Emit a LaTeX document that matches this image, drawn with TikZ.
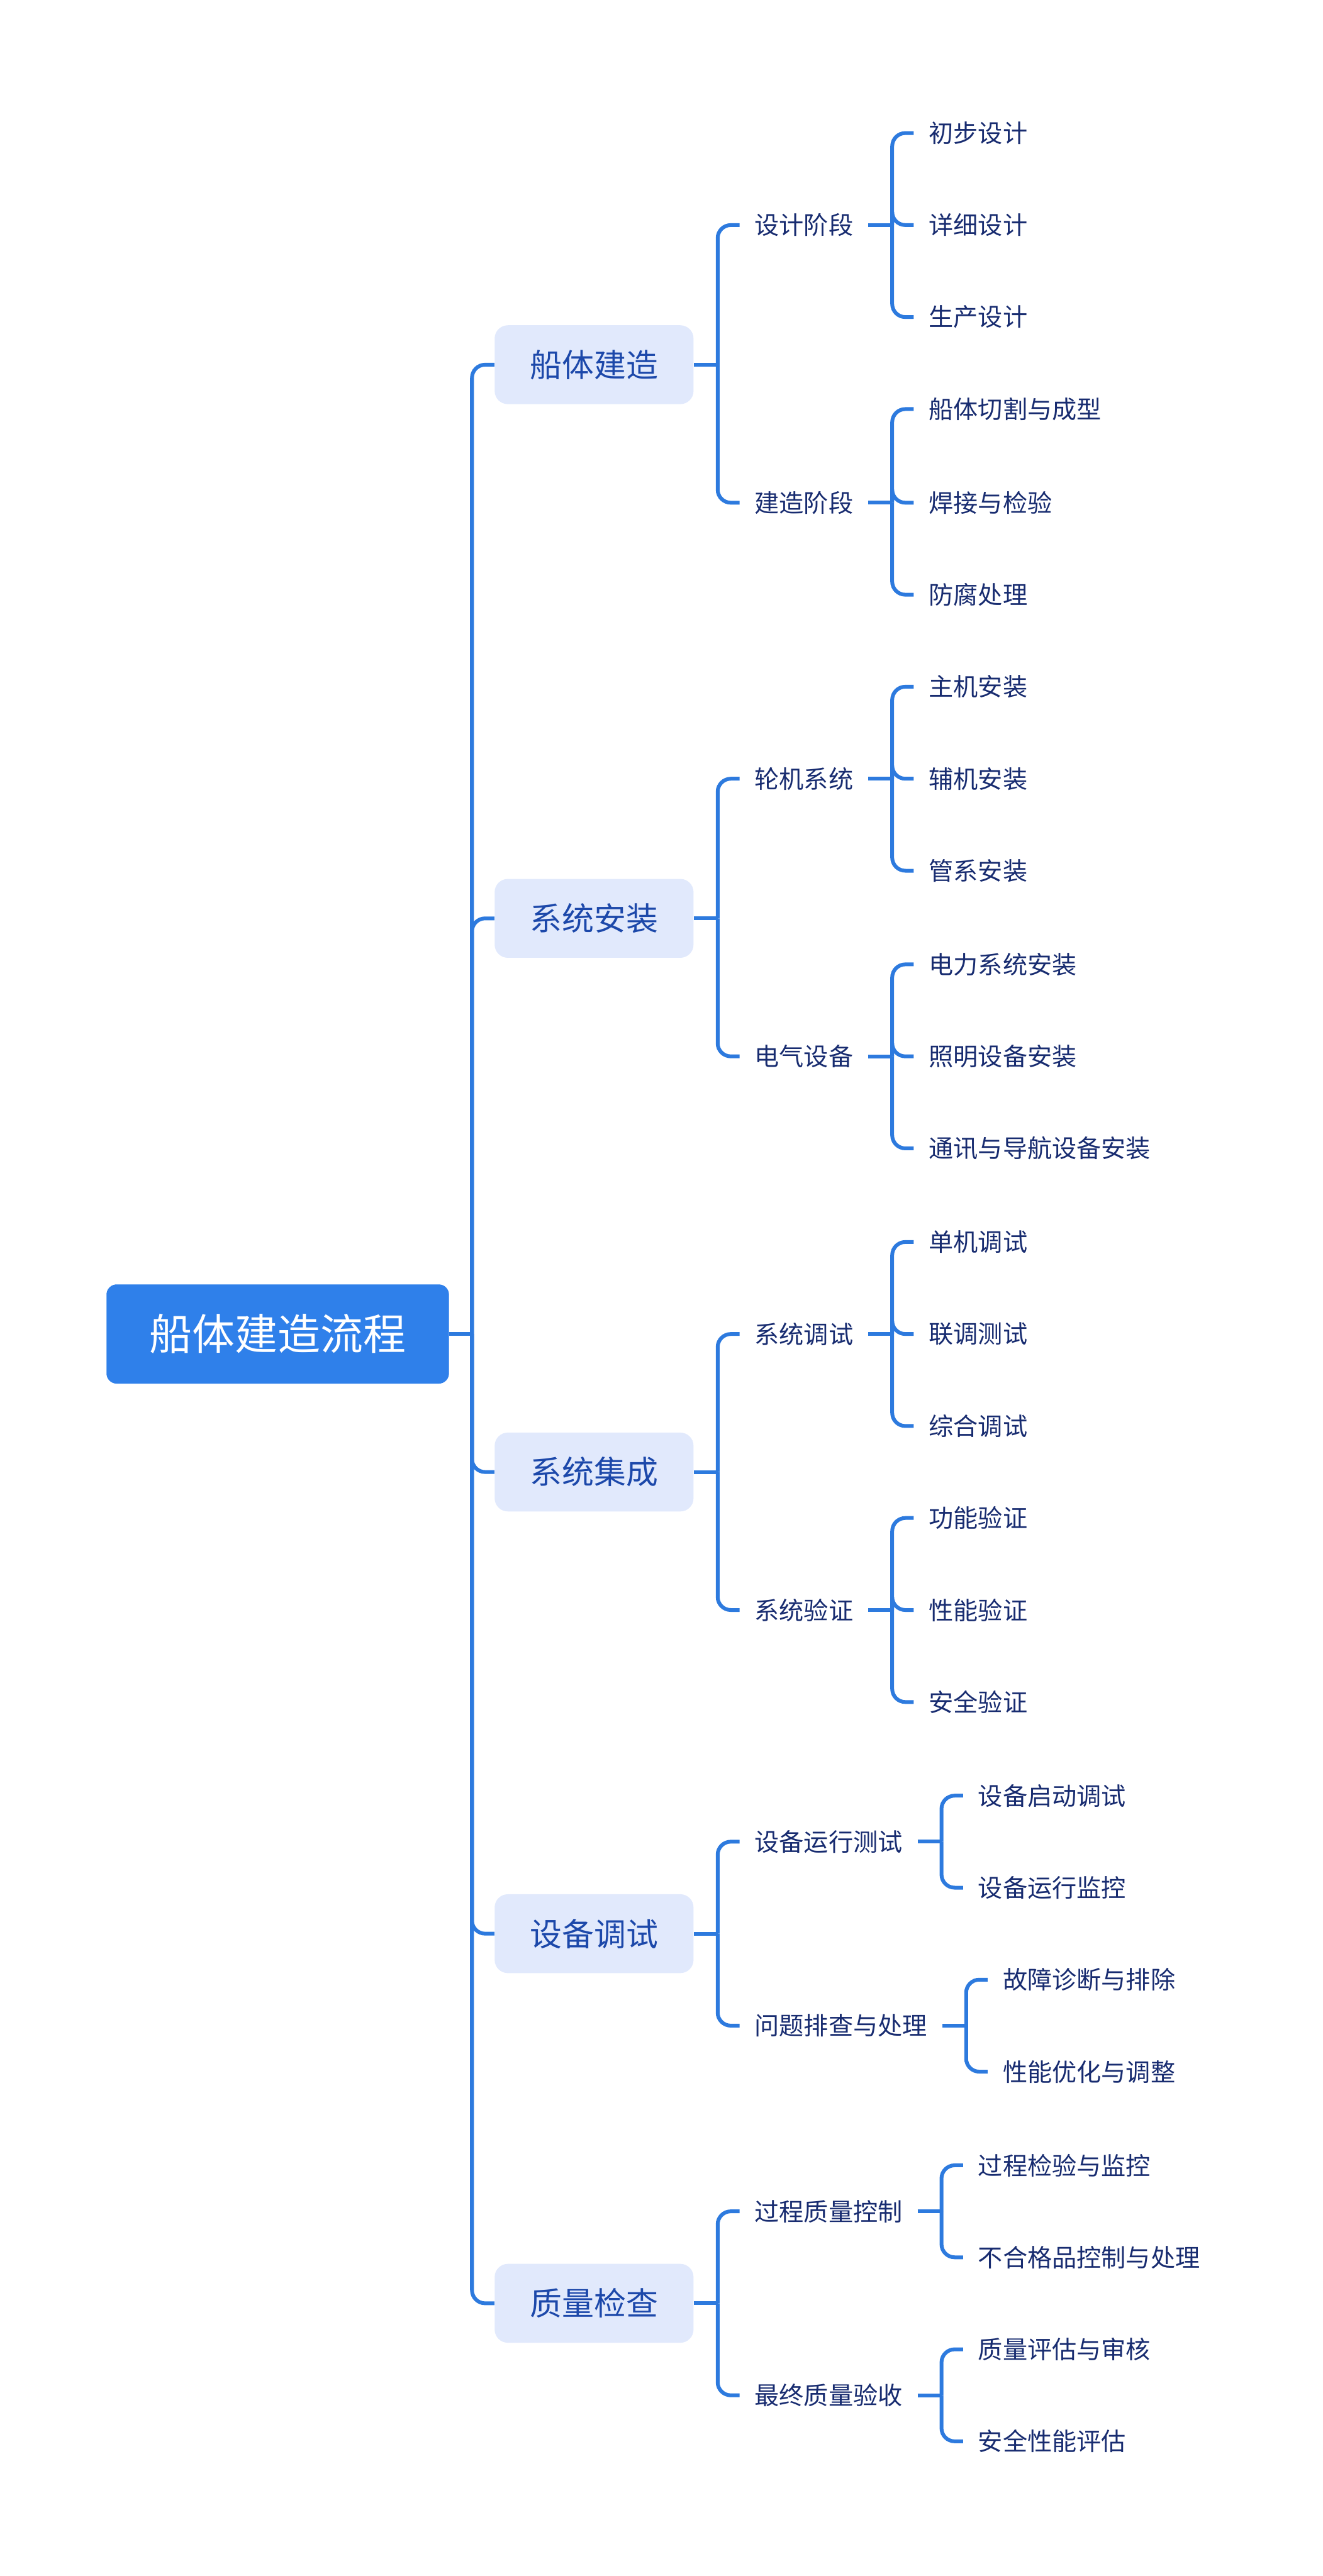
\documentclass[tikz,border=0pt]{standalone}
\usepackage{fontspec}
\setmainfont{Noto Sans CJK SC}
\usetikzlibrary{positioning}
\definecolor{rootblue}{RGB}{47,128,234}
\definecolor{topicfill}{RGB}{225,233,252}
\definecolor{topictext}{RGB}{28,72,170}
\definecolor{leaftext}{RGB}{24,44,112}
\definecolor{linkblue}{RGB}{45,122,222}

\begin{document}
\begin{tikzpicture}[x=1pt, y=-1pt,
    rootbox/.style={rectangle, fill=rootblue, draw=rootblue, rounded corners=6pt, minimum width=208pt, minimum height=60pt, text=white, font=\fontsize{26}{30}\selectfont},
    topic/.style={rectangle, fill=topicfill, rounded corners=8pt, minimum width=121pt, minimum height=48pt, text=topictext, font=\fontsize{19.5}{22}\selectfont},
    subtopic/.style={anchor=west, inner xsep=9pt, inner ysep=2pt, text=leaftext, font=\fontsize{15}{18}\selectfont},
    leaf/.style={anchor=west, inner xsep=9pt, inner ysep=2pt, text=leaftext, font=\fontsize{15}{18}\selectfont},
    link/.style={draw=linkblue, line width=2.3pt, rounded corners=8pt}]

    \useasboundingbox (0,0) rectangle (805,1568);

    % root and main topics
    \node [rootbox] (root) at (169,812) {船体建造流程};
    \node [topic] (hull) at (361.5,222) {船体建造};
    \node [topic] (sys) at (361.5,559) {系统安装};
    \node [topic] (integ) at (361.5,896) {系统集成};
    \node [topic] (debug) at (361.5,1177) {设备调试};
    \node [topic] (qc) at (361.5,1402) {质量检查};

    % sub topics
    \node [subtopic] (hull-design) at (450,137) {设计阶段};
    \node [subtopic] (hull-build) at (450,306) {建造阶段};
    \node [subtopic] (sys-engine) at (450,474) {轮机系统};
    \node [subtopic] (sys-elec) at (450,643) {电气设备};
    \node [subtopic] (integ-debug) at (450,812) {系统调试};
    \node [subtopic] (integ-verify) at (450,980) {系统验证};
    \node [subtopic] (debug-run) at (450,1121) {设备运行测试};
    \node [subtopic] (debug-fix) at (450,1233) {问题排查与处理};
    \node [subtopic] (qc-proc) at (450,1346) {过程质量控制};
    \node [subtopic] (qc-final) at (450,1458) {最终质量验收};

    % leaves
    \node [leaf] (hd1) at (556,81) {初步设计};
    \node [leaf] (hd2) at (556,137) {详细设计};
    \node [leaf] (hd3) at (556,193) {生产设计};
    \node [leaf] (hb1) at (556,249) {船体切割与成型};
    \node [leaf] (hb2) at (556,306) {焊接与检验};
    \node [leaf] (hb3) at (556,362) {防腐处理};
    \node [leaf] (se1) at (556,418) {主机安装};
    \node [leaf] (se2) at (556,474) {辅机安装};
    \node [leaf] (se3) at (556,530) {管系安装};
    \node [leaf] (sl1) at (556,587) {电力系统安装};
    \node [leaf] (sl2) at (556,643) {照明设备安装};
    \node [leaf] (sl3) at (556,699) {通讯与导航设备安装};
    \node [leaf] (id1) at (556,756) {单机调试};
    \node [leaf] (id2) at (556,812) {联调测试};
    \node [leaf] (id3) at (556,868) {综合调试};
    \node [leaf] (iv1) at (556,924) {功能验证};
    \node [leaf] (iv2) at (556,980) {性能验证};
    \node [leaf] (iv3) at (556,1036) {安全验证};
    \node [leaf] (dr1) at (586,1093) {设备启动调试};
    \node [leaf] (dr2) at (586,1149) {设备运行监控};
    \node [leaf] (df1) at (601,1205) {故障诊断与排除};
    \node [leaf] (df2) at (601,1261) {性能优化与调整};
    \node [leaf] (qp1) at (586,1318) {过程检验与监控};
    \node [leaf] (qp2) at (586,1374) {不合格品控制与处理};
    \node [leaf] (qf1) at (586,1430) {质量评估与审核};
    \node [leaf] (qf2) at (586,1486) {安全性能评估};

    % connectors
    \coordinate (root-j) at ([xshift=14pt]root.east);
    \draw [link] (root.east) -- (root-j);
    \foreach \c in {hull,sys,integ,debug,qc}
        \draw [link] (root-j) |- (\c.west);

    \foreach \p/\kids in {hull/{hull-design,hull-build}, sys/{sys-engine,sys-elec},
        integ/{integ-debug,integ-verify}, debug/{debug-run,debug-fix}, qc/{qc-proc,qc-final}} {
        \coordinate (\p-j) at ([xshift=14.5pt]\p.east);
        \draw [link] (\p.east) -- (\p-j);
        \foreach \c in \kids
            \draw [link] (\p-j) |- (\c.west);
    }

    \foreach \p/\kids in {hull-design/{hd1,hd2,hd3}, hull-build/{hb1,hb2,hb3},
        sys-engine/{se1,se2,se3}, sys-elec/{sl1,sl2,sl3},
        integ-debug/{id1,id2,id3}, integ-verify/{iv1,iv2,iv3},
        debug-run/{dr1,dr2}, debug-fix/{df1,df2}, qc-proc/{qp1,qp2}, qc-final/{qf1,qf2}} {
        \coordinate (\p-j) at ([xshift=14.5pt]\p.east);
        \draw [link] (\p.east) -- (\p-j);
        \foreach \c in \kids
            \draw [link] (\p-j) |- (\c.west);
    }
\end{tikzpicture}
\end{document}
